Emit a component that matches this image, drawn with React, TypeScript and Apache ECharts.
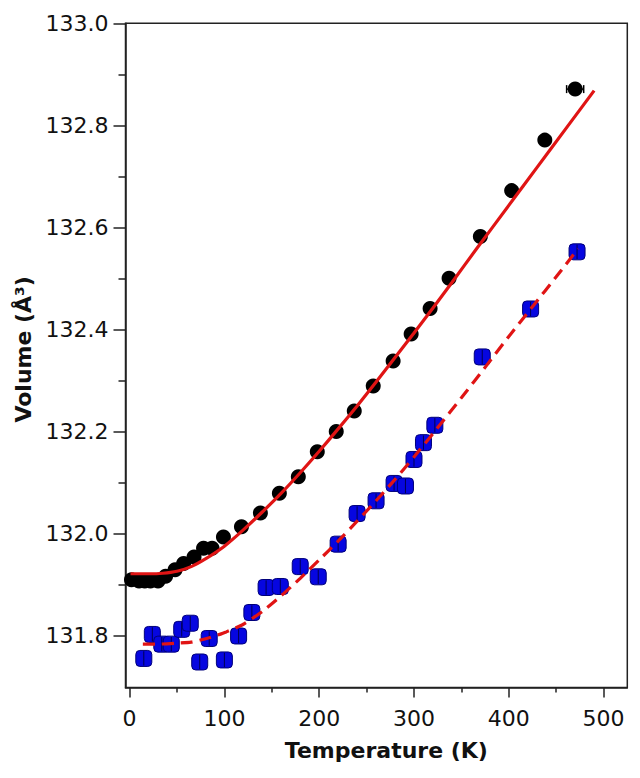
import React, { useEffect, useRef } from "react";
import * as echarts from "echarts";

// Black circles (first data set)
const blackT = [2, 10, 16, 22, 30, 38, 48, 57, 68, 78, 87, 99, 118, 138, 158, 178, 198, 218, 237, 257, 278, 297, 317, 337, 370, 403, 438, 470];
const blackV = [131.909, 131.907, 131.907, 131.907, 131.907, 131.916, 131.929, 131.941, 131.954, 131.971, 131.971, 131.993, 132.013, 132.040, 132.079, 132.111, 132.160, 132.200, 132.240, 132.289, 132.338, 132.391, 132.441, 132.500, 132.582, 132.672, 132.771, 132.871];

// Blue squares (second data set)
const blueT = [15, 24, 34, 44, 55, 64, 74, 84, 100, 115, 129, 144, 159, 180, 199, 220, 240, 260, 279, 291, 300, 310, 322, 372, 423, 472];
const blueV = [131.755, 131.802, 131.783, 131.783, 131.812, 131.824, 131.748, 131.794, 131.752, 131.799, 131.845, 131.894, 131.896, 131.935, 131.915, 131.979, 132.039, 132.064, 132.098, 132.093, 132.145, 132.178, 132.212, 132.346, 132.440, 132.552];
const blueErr = 0.014;

// Solid red fit
const fitT = [1, 20, 35, 50, 65, 80, 100, 120, 140, 160, 180, 200, 220, 240, 260, 280, 300, 320, 340, 366, 400, 430, 460, 490];
const fitV = [131.921, 131.921, 131.922, 131.926, 131.935, 131.950, 131.975, 132.007, 132.042, 132.079, 132.119, 132.161, 132.205, 132.250, 132.297, 132.345, 132.393, 132.442, 132.492, 132.558, 132.643, 132.718, 132.793, 132.868];

// Dashed red fit
const dashT = [14, 30, 50, 65, 85, 102, 120, 140, 160, 180, 200, 220, 240, 260, 280, 300, 324, 350, 376, 400, 426, 450, 473];
const dashV = [131.783, 131.783, 131.785, 131.787, 131.796, 131.807, 131.822, 131.847, 131.878, 131.912, 131.948, 131.985, 132.024, 132.064, 132.106, 132.150, 132.205, 132.266, 132.328, 132.386, 132.447, 132.503, 132.558];

// x error bar on the last black point
const lastErrT = 9;

// Ticks
const xMajor = [0, 100, 200, 300, 400, 500];
const xMinor = [50, 150, 250, 350, 450];
const yMajor = [131.8, 132.0, 132.2, 132.4, 132.6, 132.8, 133.0];
const yMinor = [131.9, 132.1, 132.3, 132.5, 132.7, 132.9];

const X_MIN = -4.3;
const X_MAX = 525;
const Y_MIN = 131.698;
const Y_MAX = 133.0;

const FONT = "DejaVu Sans";
const AXIS_COLOR = "#222";

export default function App() {
  const ref = useRef<HTMLDivElement>(null);

  useEffect(() => {
    document.body.style.margin = "0";
    if (!ref.current) return;
    const chart = echarts.init(ref.current, null, { renderer: "svg" });

    const zip = (a: number[], b: number[]) => a.map((v, i) => [v, b[i]]);

    const xBase = {
      type: "value",
      min: X_MIN,
      max: X_MAX,
      position: "bottom",
      splitLine: { show: false },
    };
    const yBase = {
      type: "value",
      min: Y_MIN,
      max: Y_MAX,
      position: "left",
      splitLine: { show: false },
    };

    const option: any = {
      animation: false,
      backgroundColor: "#fff",
      grid: {
        left: 125.5,
        right: 12.7,
        top: 23.3,
        bottom: 90.5,
        show: true,
        borderColor: AXIS_COLOR,
        borderWidth: 1.5,
        backgroundColor: "transparent",
      },
      xAxis: [
        {
          ...xBase,
          axisLine: { show: true, onZero: false, lineStyle: { color: AXIS_COLOR, width: 1.5 } },
          axisTick: { show: true, length: 10, inside: false, customValues: xMajor, lineStyle: { color: AXIS_COLOR, width: 1.5 } },
          axisLabel: {
            show: true,
            customValues: xMajor,
            margin: 20,
            fontFamily: FONT,
            fontSize: 22,
            color: "#111",
          },
          name: "Temperature (K)",
          nameLocation: "middle",
          nameGap: 52,
          nameTextStyle: {
            fontFamily: FONT,
            fontSize: 22,
            fontWeight: "bold",
            color: "#111",
            padding: [0, 0, 0, 20],
          },
        },
        {
          ...xBase,
          axisLine: { show: false, onZero: false },
          axisTick: { show: true, length: 5, inside: false, customValues: xMinor, lineStyle: { color: AXIS_COLOR, width: 1.5 } },
          axisLabel: { show: false },
        },
      ],
      yAxis: [
        {
          ...yBase,
          axisLine: { show: true, onZero: false, lineStyle: { color: AXIS_COLOR, width: 1.5 } },
          axisTick: { show: true, length: 12, inside: false, customValues: yMajor, lineStyle: { color: AXIS_COLOR, width: 1.5 } },
          axisLabel: {
            show: true,
            customValues: yMajor,
            margin: 17,
            fontFamily: FONT,
            fontSize: 22,
            color: "#111",
            formatter: (v: number) => v.toFixed(1),
          },
          name: "Volume (Å³)",
          nameLocation: "middle",
          nameGap: 88,
          nameTextStyle: {
            fontFamily: FONT,
            fontSize: 22,
            fontWeight: "bold",
            color: "#111",
            padding: [0, 0, 0, 12],
          },
        },
        {
          ...yBase,
          axisLine: { show: false, onZero: false },
          axisTick: { show: true, length: 7, inside: false, customValues: yMinor, lineStyle: { color: AXIS_COLOR, width: 1.5 } },
          axisLabel: { show: false },
        },
      ],
      series: [
        {
          type: "scatter",
          name: "blue",
          data: zip(blueT, blueV),
          symbol: "roundRect",
          symbolSize: 16,
          itemStyle: { color: "#0606e0", borderColor: "#00007a", borderWidth: 1, opacity: 1 },
          z: 2,
        },
        {
          type: "custom",
          name: "blueErr",
          data: zip(blueT, blueV),
          renderItem: (params: any, api: any) => {
            const t = api.value(0);
            const v = api.value(1);
            const p1 = api.coord([t, v - blueErr]);
            const p2 = api.coord([t, v + blueErr]);
            return {
              type: "line",
              shape: { x1: p1[0], y1: p1[1], x2: p2[0], y2: p2[1] },
              style: { stroke: "#000050", lineWidth: 1 },
            };
          },
          z: 3,
        },
        {
          type: "scatter",
          name: "black",
          data: zip(blackT, blackV),
          symbol: "circle",
          symbolSize: 15,
          itemStyle: { color: "#000", opacity: 1 },
          z: 2,
        },
        {
          type: "custom",
          name: "blackErr",
          data: [[blackT[blackT.length - 1], blackV[blackV.length - 1]]],
          renderItem: (params: any, api: any) => {
            const t = api.value(0);
            const v = api.value(1);
            const a = api.coord([t - lastErrT, v]);
            const b = api.coord([t + lastErrT, v]);
            return {
              type: "group",
              children: [
                { type: "line", shape: { x1: a[0], y1: a[1], x2: b[0], y2: b[1] }, style: { stroke: "#000", lineWidth: 1.5 } },
                { type: "line", shape: { x1: a[0], y1: a[1] - 4, x2: a[0], y2: a[1] + 4 }, style: { stroke: "#000", lineWidth: 1.5 } },
                { type: "line", shape: { x1: b[0], y1: b[1] - 4, x2: b[0], y2: b[1] + 4 }, style: { stroke: "#000", lineWidth: 1.5 } },
              ],
            };
          },
          z: 1,
        },
        {
          type: "line",
          name: "fitSolid",
          data: zip(fitT, fitV),
          showSymbol: false,
          smooth: 0.2,
          lineStyle: { color: "#e01414", width: 3.2 },
          z: 5,
        },
        {
          type: "line",
          name: "fitDashed",
          data: zip(dashT, dashV),
          showSymbol: false,
          smooth: 0.2,
          lineStyle: { color: "#e01414", width: 3.2, type: [12, 7] },
          z: 5,
        },
      ],
    };

    chart.setOption(option);
    return () => chart.dispose();
  }, []);

  return <div ref={ref} style={{ width: 640, height: 778 }} />;
}
